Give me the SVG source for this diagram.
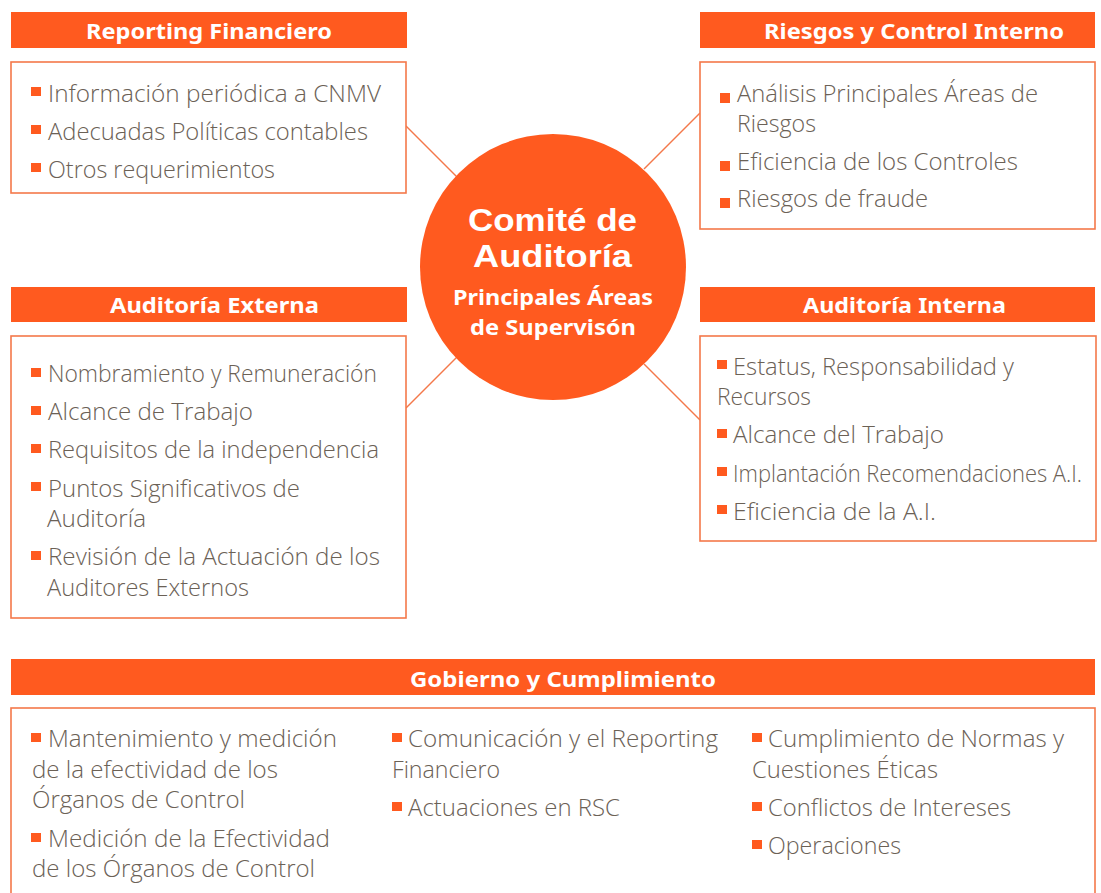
<svg xmlns="http://www.w3.org/2000/svg" width="1101" height="893" viewBox="0 0 1101 893">
<style>
.hdr{fill:#FF5A1F}
.box{fill:#FFFFFF;stroke:#F4784A;stroke-width:1.6}
.ht{font-family:"Noto Sans","Open Sans",sans-serif;font-weight:bold;font-size:22px;fill:#FFFFFF;text-anchor:start}
.t{font-family:"Open Sans","Noto Sans",sans-serif;font-weight:300;font-size:23px;fill:#6B6156}
.b{fill:#FF5A1F}
.ct{font-family:"Noto Sans","Open Sans",sans-serif;font-weight:bold;fill:#FFFFFF}
.cb{font-family:"Liberation Sans",Arial,sans-serif;font-weight:bold;font-size:32px;fill:#FFFFFF}
.conn line{stroke:#F4784A;stroke-width:1.5}
</style>
<rect width="1101" height="893" fill="#FFFFFF"/>
<g class="conn" id="connectors">
<line x1="406" y1="126" x2="458" y2="178"/>
<line x1="700" y1="113" x2="644" y2="169"/>
<line x1="406" y1="408" x2="458" y2="356"/>
<line x1="700" y1="420" x2="644" y2="364"/>
</g>
<g id="reporting">
<rect class="hdr" x="11" y="12" width="396" height="36"/>
<text class="ht" x="86" y="39" textLength="246" lengthAdjust="spacingAndGlyphs">Reporting Financiero</text>
<rect class="box" x="11" y="62" width="395" height="131"/>
<rect class="b" x="31" y="87" width="10" height="9"/>
<text class="t" x="48" y="102" textLength="333" lengthAdjust="spacingAndGlyphs">Información periódica a CNMV</text>
<rect class="b" x="31" y="125" width="10" height="9"/>
<text class="t" x="48" y="140" textLength="320" lengthAdjust="spacingAndGlyphs">Adecuadas Políticas contables</text>
<rect class="b" x="31" y="163" width="10" height="9"/>
<text class="t" x="48" y="178" textLength="227" lengthAdjust="spacingAndGlyphs">Otros requerimientos</text>
</g>
<g id="riesgos">
<rect class="hdr" x="700" y="12" width="395" height="36"/>
<text class="ht" x="764" y="39" textLength="300" lengthAdjust="spacingAndGlyphs">Riesgos y Control Interno</text>
<rect class="box" x="700" y="62" width="395" height="167"/>
<rect class="b" x="720" y="93" width="10" height="10"/>
<text class="t" x="737" y="102" textLength="301" lengthAdjust="spacingAndGlyphs">Análisis Principales Áreas de</text>
<text class="t" x="737" y="132" textLength="79" lengthAdjust="spacingAndGlyphs">Riesgos</text>
<rect class="b" x="720" y="161" width="10" height="10"/>
<text class="t" x="737" y="170" textLength="281" lengthAdjust="spacingAndGlyphs">Eficiencia de los Controles</text>
<rect class="b" x="720" y="198" width="10" height="10"/>
<text class="t" x="737" y="207" textLength="191" lengthAdjust="spacingAndGlyphs">Riesgos de fraude</text>
</g>
<g id="externa">
<rect class="hdr" x="11" y="287" width="396" height="35"/>
<text class="ht" x="110" y="313" textLength="209" lengthAdjust="spacingAndGlyphs">Auditoría Externa</text>
<rect class="box" x="11" y="336" width="395" height="282"/>
<rect class="b" x="31" y="368" width="10" height="9"/>
<text class="t" x="48" y="382" textLength="329" lengthAdjust="spacingAndGlyphs">Nombramiento y Remuneración</text>
<rect class="b" x="31" y="406" width="10" height="9"/>
<text class="t" x="48" y="420" textLength="205" lengthAdjust="spacingAndGlyphs">Alcance de Trabajo</text>
<rect class="b" x="31" y="444" width="10" height="9"/>
<text class="t" x="48" y="458" textLength="331" lengthAdjust="spacingAndGlyphs">Requisitos de la independencia</text>
<rect class="b" x="31" y="482" width="10" height="9"/>
<text class="t" x="48" y="497" textLength="252" lengthAdjust="spacingAndGlyphs">Puntos Significativos de</text>
<text class="t" x="47" y="527" textLength="99" lengthAdjust="spacingAndGlyphs">Auditoría</text>
<rect class="b" x="31" y="551" width="10" height="9"/>
<text class="t" x="48" y="565" textLength="332" lengthAdjust="spacingAndGlyphs">Revisión de la Actuación de los</text>
<text class="t" x="47" y="596" textLength="202" lengthAdjust="spacingAndGlyphs">Auditores Externos</text>
</g>
<g id="interna">
<rect class="hdr" x="700" y="287" width="395" height="35"/>
<text class="ht" x="803" y="313" textLength="203" lengthAdjust="spacingAndGlyphs">Auditoría Interna</text>
<rect class="box" x="700" y="336" width="396" height="205"/>
<rect class="b" x="717" y="360" width="10" height="9"/>
<text class="t" x="733" y="375" textLength="281" lengthAdjust="spacingAndGlyphs">Estatus, Responsabilidad y</text>
<text class="t" x="717" y="405" textLength="94" lengthAdjust="spacingAndGlyphs">Recursos</text>
<rect class="b" x="717" y="429" width="10" height="9"/>
<text class="t" x="733" y="443" textLength="211" lengthAdjust="spacingAndGlyphs">Alcance del Trabajo</text>
<rect class="b" x="717" y="467" width="10" height="9"/>
<text class="t" x="733" y="482" font-size="21" textLength="349" lengthAdjust="spacingAndGlyphs">Implantación Recomendaciones A.I.</text>
<rect class="b" x="717" y="505" width="10" height="9"/>
<text class="t" x="733" y="520" textLength="203" lengthAdjust="spacingAndGlyphs">Eficiencia de la A.I.</text>
</g>
<g id="comite">
<circle cx="553" cy="267" r="133" fill="#FF5A1F"/>
<text class="cb" x="468" y="231" textLength="169" lengthAdjust="spacingAndGlyphs">Comité de</text>
<text class="cb" x="473" y="267" textLength="159" lengthAdjust="spacingAndGlyphs">Auditoría</text>
<text class="ct" x="453" y="305" font-size="22" textLength="200" lengthAdjust="spacingAndGlyphs">Principales Áreas</text>
<text class="ct" x="470" y="335" font-size="22" textLength="166" lengthAdjust="spacingAndGlyphs">de Supervisón</text>
</g>
<g id="gobierno">
<rect class="hdr" x="11" y="659" width="1084" height="36"/>
<text class="ht" x="410" y="687" textLength="306" lengthAdjust="spacingAndGlyphs">Gobierno y Cumplimiento</text>
<rect class="box" x="11" y="708" width="1084" height="200"/>
<rect class="b" x="31" y="733" width="10" height="9"/>
<text class="t" x="48" y="747" textLength="289" lengthAdjust="spacingAndGlyphs">Mantenimiento y medición</text>
<text class="t" x="32" y="778" textLength="246" lengthAdjust="spacingAndGlyphs">de la efectividad de los</text>
<text class="t" x="32" y="808" textLength="213" lengthAdjust="spacingAndGlyphs">Órganos de Control</text>
<rect class="b" x="31" y="833" width="10" height="9"/>
<text class="t" x="48" y="847" textLength="282" lengthAdjust="spacingAndGlyphs">Medición de la Efectividad</text>
<text class="t" x="32" y="877" textLength="283" lengthAdjust="spacingAndGlyphs">de los Órganos de Control</text>
<rect class="b" x="392" y="733" width="10" height="9"/>
<text class="t" x="408" y="747" textLength="310" lengthAdjust="spacingAndGlyphs">Comunicación y el Reporting</text>
<text class="t" x="392" y="778" textLength="108" lengthAdjust="spacingAndGlyphs">Financiero</text>
<rect class="b" x="392" y="802" width="10" height="9"/>
<text class="t" x="408" y="816" textLength="212" lengthAdjust="spacingAndGlyphs">Actuaciones en RSC</text>
<rect class="b" x="752" y="733" width="10" height="9"/>
<text class="t" x="768" y="747" textLength="296" lengthAdjust="spacingAndGlyphs">Cumplimiento de Normas y</text>
<text class="t" x="752" y="778" textLength="186" lengthAdjust="spacingAndGlyphs">Cuestiones Éticas</text>
<rect class="b" x="752" y="802" width="10" height="9"/>
<text class="t" x="768" y="816" textLength="243" lengthAdjust="spacingAndGlyphs">Conflictos de Intereses</text>
<rect class="b" x="752" y="840" width="10" height="9"/>
<text class="t" x="768" y="854" textLength="133" lengthAdjust="spacingAndGlyphs">Operaciones</text>
</g>
</svg>
